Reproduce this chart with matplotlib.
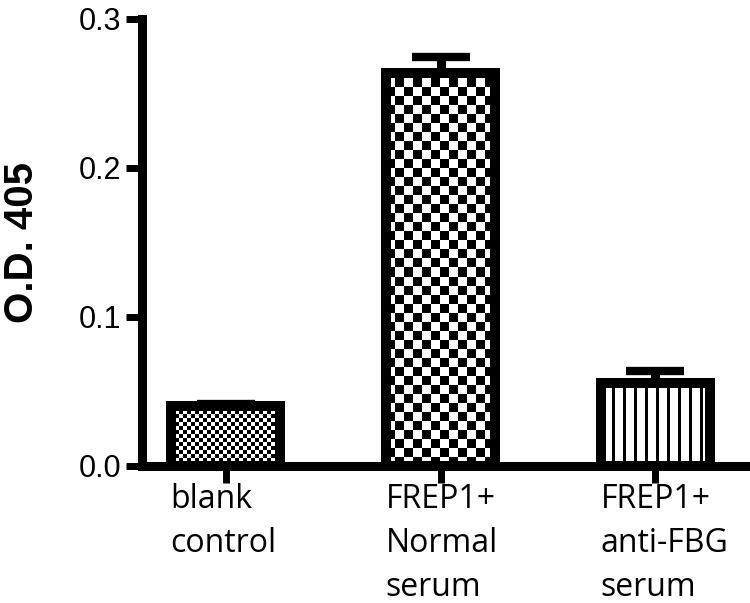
import numpy as np
import matplotlib
matplotlib.use("Agg")
import matplotlib.pyplot as plt
from matplotlib.transforms import ScaledTranslation

# data
groups = ["blank\ncontrol", "FREP1+\nNormal\nserum", "FREP1+\nanti-FBG\nserum"]
means = [0.040, 0.264, 0.056]
errors = [0.0015, 0.0105, 0.008]
y_ticks = [0.0, 0.1, 0.2, 0.3]
y_tick_labels = ["0.0", "0.1", "0.2", "0.3"]

# fill pattern of each bar: (kind, cell size in px)
patterns = [("checker", 4), ("checker", 9), ("stripes", 11)]

fig = plt.figure(figsize=(7.5, 6.03), dpi=100)
ax = fig.add_axes([0.189, 0.2272, 0.811, 0.7413])

x = np.arange(len(groups))
ax.set_xlim(-0.39, 2.44)
ax.set_ylim(0, 0.3)

bars = ax.bar(x, means, width=0.51, facecolor="none", edgecolor="black",
              linewidth=7.2, zorder=3)


def texture(kind, size, nx, ny):
    j, i = np.indices((ny, nx))
    if kind == "checker":
        return ((i // size) + (j // size)) % 2
    return (i % size < 3).astype(int)


# paint the fill patterns inside each bar
for bar, (kind, size) in zip(bars, patterns):
    x0, y0 = bar.get_x(), bar.get_y()
    x1, y1 = x0 + bar.get_width(), y0 + bar.get_height()
    (px0, py0), (px1, py1) = ax.transData.transform([(x0, y0), (x1, y1)])
    img = texture(kind, size, int(round(px1 - px0)), int(round(py1 - py0)))
    im = ax.imshow(img, extent=(x0, x1, y0, y1), origin="lower", cmap="gray_r",
                   vmin=0, vmax=1, interpolation="nearest", aspect="auto",
                   zorder=2)
    im.set_clip_path(bar)

ax.errorbar(x, means, yerr=[np.zeros(len(means)), errors], fmt="none",
            ecolor="black", elinewidth=6.5, capsize=21, capthick=6, zorder=4)

ax.set_xlim(-0.39, 2.44)
ax.set_ylim(0, 0.3)

for side in ["top", "right"]:
    ax.spines[side].set_visible(False)
for side in ["left", "bottom"]:
    ax.spines[side].set_linewidth(6.5)

ax.set_yticks(y_ticks)
ax.set_yticklabels(y_tick_labels, fontfamily="Liberation Sans", fontsize=22)
ax.tick_params(axis="y", length=11.5, width=5, pad=3.5)

ax.set_xticks(x)
ax.set_xticklabels(groups, fontfamily="Open Sans", fontsize=23, ha="left",
                   linespacing=1.45)
ax.tick_params(axis="x", length=12, width=5, pad=0)
shift = ScaledTranslation(-55 / 100, 0, fig.dpi_scale_trans)
for lbl in ax.get_xticklabels():
    lbl.set_transform(lbl.get_transform() + shift)

ax.set_ylabel("O.D. 405", fontfamily="Liberation Sans", fontsize=29,
              fontweight="bold")
ax.yaxis.set_label_coords(-0.166, 0.5)

fig.savefig("out.png", dpi=100)
